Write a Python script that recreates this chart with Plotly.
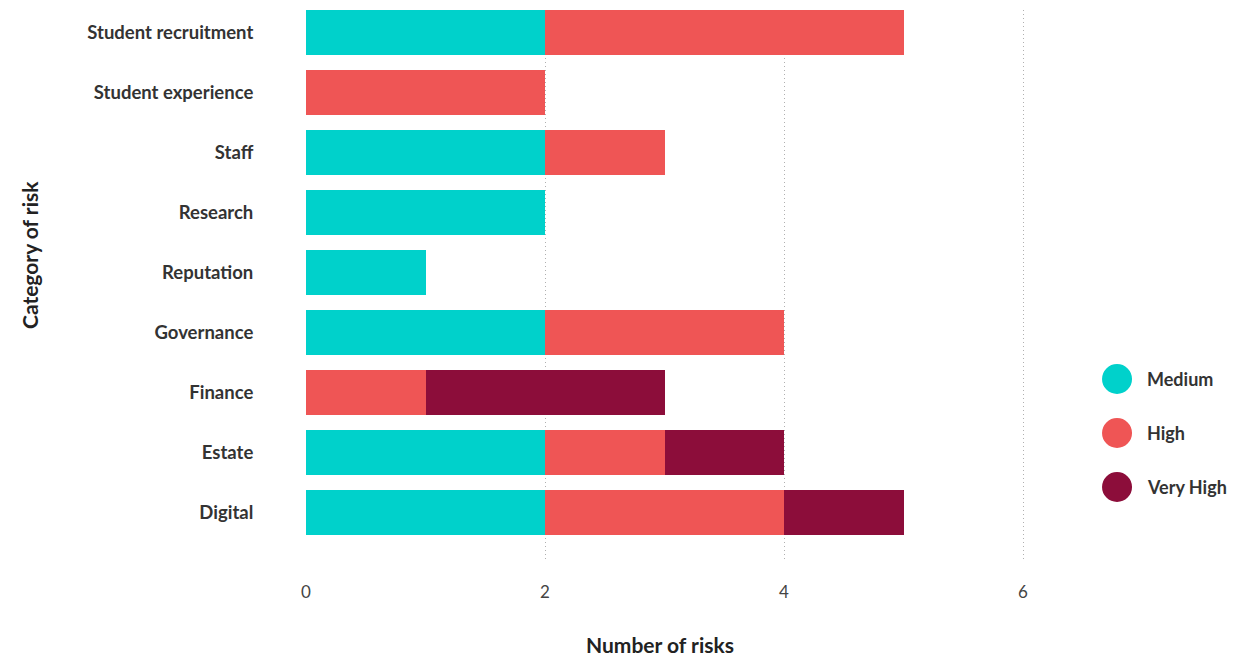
import plotly.graph_objects as go

categories = ["Digital", "Estate", "Finance", "Governance", "Reputation",
              "Research", "Staff", "Student experience", "Student recruitment"]
series_names = ["Medium", "High", "Very High"]
medium = [2, 2, 0, 2, 1, 2, 2, 0, 2]
high = [2, 1, 1, 2, 0, 0, 1, 2, 3]
very_high = [1, 1, 2, 0, 0, 0, 0, 0, 0]
series_values = [medium, high, very_high]
colors = ["#00D1CB", "#EF5555", "#8C0D3A"]
x_ticks = [0, 2, 4, 6]

FONT = "Lato"
X_MAX = 6.05
PX_PER_UNIT = (1023 - 306) / 6
PLOT_LEFT = 306
PLOT_RIGHT = PLOT_LEFT + X_MAX * PX_PER_UNIT
W = PLOT_RIGHT - PLOT_LEFT

fig = go.Figure()
for name, vals, col in zip(series_names, series_values, colors):
    fig.add_trace(go.Bar(
        y=categories, x=vals, name=name, orientation="h",
        marker=dict(color=col, line=dict(width=0)),
        showlegend=False, hoverinfo="x+y+name",
    ))

# custom legend with large circles
legend_y_px = [379, 433, 487]
plot_top, plot_bottom = 10, 562
H = plot_bottom - plot_top
for name, col, ypx in zip(series_names, colors, legend_y_px):
    yp = (plot_bottom - ypx) / H
    fig.add_shape(type="circle", xref="paper", yref="paper",
                  xsizemode="pixel", ysizemode="pixel",
                  xanchor=(1117 - PLOT_LEFT) / W, yanchor=yp,
                  x0=-15, x1=15, y0=-15, y1=15,
                  fillcolor=col, line=dict(width=0))
    fig.add_annotation(xref="paper", yref="paper",
                       x=(1145 - PLOT_LEFT) / W, y=yp,
                       xanchor="left", yanchor="middle", showarrow=False,
                       text="<b>%s</b>" % name,
                       font=dict(family=FONT, size=18, color="#333333"))

# axis titles placed as annotations
fig.add_annotation(xref="paper", yref="paper",
                   x=(30 - PLOT_LEFT) / W, y=(plot_bottom - 255) / H,
                   xanchor="center", yanchor="middle", showarrow=False,
                   textangle=-90, text="<b>Category of risk</b>",
                   font=dict(family=FONT, size=21, color="#222222"))
fig.add_annotation(xref="paper", yref="paper",
                   x=(660 - PLOT_LEFT) / W, y=(plot_bottom - 644) / H,
                   xanchor="center", yanchor="middle", showarrow=False,
                   text="<b>Number of risks</b>",
                   font=dict(family=FONT, size=21, color="#222222"))

fig.update_layout(
    barmode="stack", bargap=0.25,
    width=1236, height=658,
    margin=dict(l=PLOT_LEFT, r=1236 - PLOT_RIGHT, t=plot_top, b=658 - plot_bottom),
    paper_bgcolor="white", plot_bgcolor="white",
    font=dict(family=FONT, color="#333333"),
    showlegend=False,
)
fig.update_xaxes(
    range=[0, X_MAX], tickvals=x_ticks, ticktext=[str(v) for v in x_ticks],
    showgrid=True, gridcolor="#b0b0b0", griddash="1px,3px", gridwidth=1,
    zeroline=False, showline=False, automargin=False,
    ticks="outside", ticklen=15, tickcolor="rgba(0,0,0,0)",
    tickfont=dict(family=FONT, size=17, color="#444444"),
)
fig.update_yaxes(
    categoryorder="array", categoryarray=categories,
    range=[-0.833, 8.375], automargin=False,
    showgrid=False, zeroline=False, showline=False,
    ticks="outside", ticklen=48, tickcolor="rgba(0,0,0,0)",
    tickfont=dict(family=FONT, size=18.5, color="#333333"),
    tickprefix="<b>", ticksuffix="</b>",
)
fig.write_html("out.html")
